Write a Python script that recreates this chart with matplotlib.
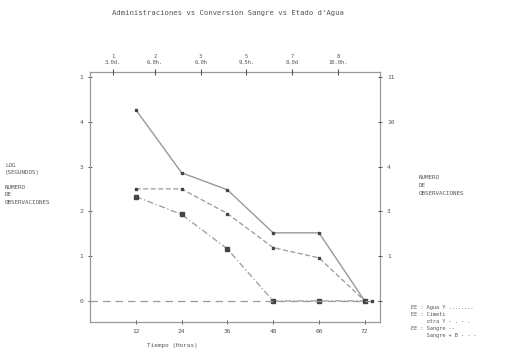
import matplotlib
matplotlib.use("Agg")
import matplotlib.pyplot as plt

# datos (eje izquierdo)
tiempo = [12, 24, 36, 48, 60, 72]
serie_1 = [4.27, 2.86, 2.48, 1.52, 1.52, 0.0]
serie_2 = [2.50, 2.50, 1.95, 1.19, 0.96, 0.0]
serie_3 = [2.33, 1.93, 1.16, 0.0, 0.0, 0.0]

izq_ticks = [0, 1, 2, 3, 4, 5]
izq_labels = ["0", "1", "2", "3", "4", "1"]
der_labels = ["", "1", "3", "4", "10", "11"]
sup_pos = [6, 17, 29, 41, 53, 65]
sup_labels = ["1\n3.0d.", "2\n6.0h.", "3\n6.0h", "5\n9.5h.", "7\n8.0d", "8\n10.0h."]

gris = "#999999"
txt = "#555555"
fuente = "DejaVu Sans Mono"

fig = plt.figure(figsize=(5.07, 3.53), dpi=100)
ax = fig.add_axes([0.1775, 0.088, 0.572, 0.708])

ax.plot(tiempo, serie_1, color=gris, lw=1.0, ls="-", marker="s", ms=1.8, mfc="#444444", mec="#444444")
ax.plot(tiempo, serie_2, color=gris, lw=0.9, ls=(0, (4, 2)), marker="s", ms=1.8, mfc="#444444", mec="#444444")
ax.plot(tiempo, serie_3, color=gris, lw=0.9, ls=(0, (5, 2, 1, 2)), marker="s", ms=2.2, mfc="#444444", mec="#444444")
ax.axhline(0, color=gris, lw=0.9, ls=(0, (6, 4)))
ax.plot([74], [0], "s", ms=1.8, color="#444444")

ax.set_xlim(0, 76)
ax.set_ylim(-0.47, 5.11)
ax.set_xticks(tiempo)
ax.set_xticklabels([str(t) for t in tiempo])
ax.set_yticks(izq_ticks)
ax.set_yticklabels(izq_labels)
for s in ax.spines.values():
    s.set_color(gris)
    s.set_linewidth(0.9)
ax.tick_params(labelsize=4.5, colors=txt, length=3, width=0.7, direction="inout")
for t in ax.get_xticklabels() + ax.get_yticklabels():
    t.set_family(fuente)

ax2 = ax.twinx()
ax2.set_ylim(ax.get_ylim())
ax2.set_yticks(izq_ticks)
ax2.set_yticklabels(der_labels)
ax2.tick_params(labelsize=4.5, colors=txt, length=3, width=0.7, direction="inout")
for s in ax2.spines.values():
    s.set_visible(False)
for t in ax2.get_yticklabels():
    t.set_family(fuente)

ax3 = ax.twiny()
ax3.set_xlim(ax.get_xlim())
ax3.set_xticks(sup_pos)
ax3.set_xticklabels(sup_labels)
ax3.tick_params(labelsize=4, colors=txt, length=4, width=0.8, direction="inout", pad=3)
for s in ax3.spines.values():
    s.set_visible(False)
for t in ax3.get_xticklabels():
    t.set_family(fuente)

fig.text(0.45, 0.962, "Administraciones vs Conversion Sangre vs Etado d'Agua",
         ha="center", va="center", fontsize=5.2, color=txt, family=fuente)
fig.text(0.01, 0.48, "LOG\n(SEGUNDOS)\n\nNUMERO\nDE\nOBSERVACIONES", ha="left", va="center",
         fontsize=4.2, color=txt, family=fuente, linespacing=1.6)
fig.text(0.825, 0.475, "NUMERO\nDE\nOBSERVACIONES", ha="left", va="center",
         fontsize=4.2, color=txt, family=fuente, linespacing=1.8)
fig.text(0.34, 0.02, "Tiempo (Horas)", ha="center", va="center",
         fontsize=4.3, color=txt, family=fuente)
fig.text(0.81, 0.09, "EE : Agua Y ........\nEE : Cimeti\n     otra Y - . - .\nEE : Sangre --\n     Sangre + B - - -",
         ha="left", va="center", fontsize=3.8, color=txt, family=fuente, linespacing=1.5)

fig.savefig("out.png", dpi=100)
